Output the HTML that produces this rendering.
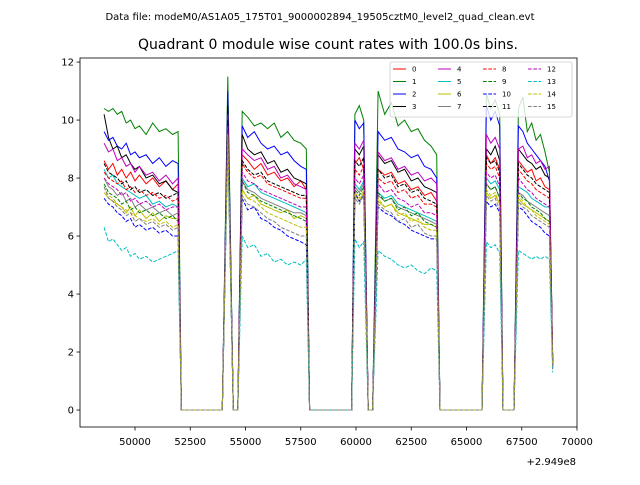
<!DOCTYPE html>
<html><head><meta charset="utf-8"><style>
body{margin:0;background:#fff;}
svg text{font-family:"DejaVu Sans","Liberation Sans",sans-serif;}
</style></head><body>
<svg id="chart" width="640" height="480" viewBox="0 0 640 480" xmlns="http://www.w3.org/2000/svg">
<rect width="640" height="480" fill="#fff"/>
<text x="320" y="20" font-size="10" text-anchor="middle">Data file: modeM0/AS1A05_175T01_9000002894_19505cztM0_level2_quad_clean.evt</text>
<text x="328" y="49" font-size="14" text-anchor="middle">Quadrant 0 module wise count rates with 100.0s bins.</text>
<g id="plot"></g>
<g id="axes"></g>
<g id="legend"></g>
</svg>
<script>
const times=[48600,48800,49000,49200,49400,49600,49800,50000,50200,50500,50800,51100,51400,51700,51950,52100,53950,54200,54450,54650,54850,55100,55400,55700,56000,56300,56600,56900,57200,57500,57750,57900,59800,59950,60150,60350,60550,60750,61000,61300,61600,61900,62200,62500,62800,63100,63400,63650,63800,65700,65900,66100,66300,66500,66650,67150,67350,67550,67750,67950,68150,68350,68550,68750,68900];
const s0=[8.6,8.3,8.5,8.1,8.3,8.0,8.2,7.9,8.1,7.8,8.0,7.7,7.9,7.6,7.8,0,0,9.5,0,0,8.8,8.6,8.3,8.5,8.1,8.2,7.9,8.0,7.7,7.9,7.6,0,0,8.5,8.7,8.3,0,0,8.3,8.1,8.2,7.8,7.9,7.6,7.7,7.4,7.5,7.2,0,0,8.8,8.5,8.7,8.3,0,0,8.6,8.4,8.2,8.3,7.9,8.0,7.7,7.6,1.7];
const s1=[10.4,10.3,10.4,10.2,10.3,9.9,10.0,9.7,9.8,9.5,9.9,9.6,9.7,9.5,9.6,0,0,11.5,0,0,10.3,10.1,9.8,9.9,9.7,9.9,9.4,9.6,9.3,9.2,9.0,0,0,10.2,10.5,10.0,0,0,11.0,10.2,10.6,9.8,10.0,9.6,9.7,9.3,9.1,8.8,0,0,10.9,10.4,10.7,10.2,0,0,10.4,10.8,9.6,9.9,9.3,9.5,8.9,8.2,1.8];
const s2=[9.6,9.3,9.4,9.1,9.0,9.2,8.8,8.9,8.7,8.8,8.5,8.7,8.4,8.6,8.5,0,0,11.0,0,0,9.8,9.4,9.6,9.2,9.0,9.1,8.8,8.9,8.6,8.4,8.3,0,0,10.0,9.7,9.9,0,0,9.6,9.3,9.4,9.0,8.9,8.7,8.8,8.4,8.3,8.0,0,0,10.5,10.0,10.3,9.8,0,0,9.8,9.6,9.2,9.0,8.8,8.6,8.4,7.9,1.7];
const s3=[10.2,9.4,9.0,9.1,8.7,8.8,8.5,8.3,8.4,8.0,8.1,7.8,7.9,7.6,7.5,0,0,10.5,0,0,9.5,9.0,8.8,8.9,8.5,8.6,8.2,8.3,8.0,7.9,7.8,0,0,9.0,8.8,9.1,0,0,8.8,8.5,8.6,8.2,8.3,7.9,8.0,7.7,7.6,7.5,0,0,9.0,8.8,9.1,8.6,0,0,9.0,8.8,8.6,8.5,8.3,8.4,8.1,8.0,1.6];
const s4=[9.2,8.9,9.0,8.6,8.7,8.4,8.5,8.2,8.4,8.1,8.2,7.9,8.1,7.8,8.0,0,0,10.2,0,0,9.0,8.8,8.6,8.7,8.3,8.4,8.0,8.1,7.8,7.7,7.6,0,0,9.2,9.0,9.3,0,0,8.9,8.6,8.7,8.3,8.4,8.1,8.2,7.9,8.0,7.8,0,0,9.5,9.2,9.4,9.0,0,0,9.0,9.1,8.7,8.8,8.5,8.6,8.3,8.4,1.7];
const s5=[8.3,8.0,8.1,7.8,7.7,7.6,7.5,7.4,7.3,7.4,7.1,7.2,7.0,7.1,7.0,0,0,9.8,0,0,8.0,7.7,7.8,7.5,7.4,7.3,7.2,7.1,7.0,6.9,6.8,0,0,7.8,7.6,7.9,0,0,7.5,7.3,7.4,7.1,7.0,6.9,6.8,6.7,6.6,6.5,0,0,8.0,7.8,7.9,7.6,0,0,7.7,7.6,7.5,7.3,7.2,7.1,7.0,7.0,1.5];
const s6=[7.5,7.3,7.2,7.1,7.0,6.8,7.0,6.7,6.9,6.6,6.8,6.5,6.7,6.6,6.6,0,0,9.6,0,0,7.6,7.3,7.4,7.1,7.0,6.9,6.8,6.9,6.6,6.7,6.6,0,0,7.4,7.2,7.5,0,0,7.2,7.0,7.1,6.8,6.7,6.6,6.5,6.4,6.4,6.3,0,0,7.5,7.3,7.4,7.1,0,0,7.3,7.1,7.0,6.9,6.8,6.7,6.6,6.5,1.5];
const s7=[8.0,7.7,7.6,7.4,7.5,7.2,7.3,7.0,7.1,6.9,7.0,6.8,6.9,6.7,6.8,0,0,9.7,0,0,7.9,7.6,7.5,7.3,7.2,7.1,7.0,6.9,6.8,6.8,6.7,0,0,7.7,7.5,7.8,0,0,7.4,7.2,7.3,7.0,6.9,6.8,6.7,6.6,6.5,6.4,0,0,7.8,7.6,7.7,7.3,0,0,7.5,7.4,7.2,7.1,7.0,6.9,6.8,6.7,1.5];
const s8=[8.2,8.0,7.9,7.8,7.9,7.6,7.7,7.5,7.6,7.4,7.5,7.3,7.4,7.2,7.3,0,0,9.9,0,0,8.5,8.2,8.0,8.1,7.8,7.7,7.6,7.5,7.4,7.3,7.3,0,0,8.3,8.1,8.4,0,0,8.0,7.8,7.9,7.5,7.6,7.3,7.4,7.1,7.1,7.0,0,0,8.5,8.3,8.4,8.0,0,0,8.3,8.1,7.9,7.8,7.6,7.5,7.4,7.3,1.6];
const s9=[7.8,7.5,7.4,7.3,7.1,7.2,6.9,7.0,6.8,6.9,6.7,6.8,6.6,6.7,6.5,0,0,9.7,0,0,7.9,7.5,7.4,7.2,7.1,7.0,6.9,6.8,6.7,6.6,6.5,0,0,7.6,7.4,7.7,0,0,7.5,7.2,7.3,6.9,7.0,6.7,6.8,6.5,6.4,6.3,0,0,7.8,7.6,7.7,7.3,0,0,7.5,7.3,7.2,7.0,6.9,6.8,6.6,6.5,1.5];
const s10=[7.3,7.1,7.0,6.8,6.7,6.5,6.6,6.3,6.4,6.2,6.3,6.1,6.2,6.0,6.0,0,0,9.5,0,0,7.3,6.9,7.0,6.6,6.5,6.3,6.2,6.0,5.9,5.8,5.7,0,0,7.5,7.2,7.4,0,0,7.0,6.8,6.7,6.5,6.4,6.2,6.1,6.0,5.9,5.9,0,0,7.2,7.0,7.1,6.8,0,0,7.0,6.9,6.7,6.5,6.4,6.3,6.1,6.0,1.4];
const s11=[8.5,8.2,8.1,8.0,7.8,7.9,7.6,7.7,7.5,7.6,7.4,7.5,7.3,7.4,7.5,0,0,10.0,0,0,8.6,8.3,8.1,8.2,7.9,7.8,7.7,7.6,7.5,7.4,7.4,0,0,8.6,8.4,8.7,0,0,8.3,8.0,8.1,7.7,7.8,7.5,7.6,7.3,7.2,7.1,0,0,8.7,8.5,8.6,8.2,0,0,8.5,8.3,8.1,8.0,7.8,7.7,7.6,7.5,1.6];
const s12=[8.0,7.8,7.7,7.6,7.4,7.5,7.2,7.3,7.1,7.2,7.0,7.1,6.9,7.0,7.0,0,0,9.8,0,0,8.2,7.9,7.8,7.6,7.5,7.4,7.3,7.2,7.1,7.0,7.0,0,0,8.0,7.8,8.1,0,0,7.8,7.5,7.6,7.3,7.2,7.0,7.1,6.8,6.8,6.7,0,0,8.2,8.0,8.1,7.7,0,0,8.0,7.8,7.6,7.5,7.3,7.2,7.1,7.0,1.5];
const s13=[6.3,5.8,5.9,5.7,5.5,5.6,5.3,5.4,5.2,5.3,5.1,5.2,5.3,5.4,5.5,0,0,9.0,0,0,6.0,5.6,5.7,5.3,5.4,5.1,5.2,5.0,5.1,5.0,5.2,0,0,5.9,5.6,5.8,0,0,5.5,5.3,5.2,5.0,4.9,5.0,4.8,4.7,4.9,4.8,0,0,5.8,5.6,5.7,5.4,0,0,5.5,5.4,5.3,5.2,5.3,5.2,5.3,5.2,1.3];
const s14=[7.7,7.4,7.3,7.1,7.0,6.9,6.8,6.7,6.6,6.5,6.6,6.4,6.5,6.3,6.4,0,0,9.5,0,0,7.6,7.3,7.2,7.0,6.8,6.7,6.6,6.5,6.4,6.3,6.3,0,0,7.5,7.3,7.6,0,0,7.3,7.0,7.1,6.7,6.8,6.5,6.6,6.3,6.2,6.2,0,0,7.6,7.4,7.5,7.1,0,0,7.4,7.2,7.0,6.9,6.7,6.6,6.5,6.4,1.5];
const s15=[7.7,7.3,7.2,7.0,6.9,6.7,6.8,6.5,6.6,6.4,6.5,6.3,6.4,6.2,6.3,0,0,9.4,0,0,7.4,7.1,7.0,6.8,6.6,6.5,6.3,6.2,6.1,6.0,6.0,0,0,7.3,7.1,7.4,0,0,7.1,6.9,6.8,6.5,6.6,6.3,6.4,6.1,6.0,6.0,0,0,7.4,7.2,7.3,6.9,0,0,7.2,7.0,6.9,6.7,6.6,6.5,6.4,6.3,1.4];
const seriesLabels=["0","1","2","3","4","5","6","7","8","9","10","11","12","13","14","15"];
const xTicks=[50000,52500,55000,57500,60000,62500,65000,67500,70000];
const yTicks=[0,2,4,6,8,10,12];

const allSeries=[s0,s1,s2,s3,s4,s5,s6,s7,s8,s9,s10,s11,s12,s13,s14,s15];
const colors=["#ff0000","#008000","#0000ff","#000000","#bf00bf","#00bfbf","#bfbf00","#808080"];
const L=80,R=577,T=58,B=427;
const xMin=47511,xMax=70000,yMin=-0.586,yMax=12.14;
function xs(v){return L+(v-xMin)/(xMax-xMin)*(R-L);}
function ys(v){return B-(v-yMin)/(yMax-yMin)*(B-T);}
const NS="http://www.w3.org/2000/svg";
function mk(tag,attrs,parent){const e=document.createElementNS(NS,tag);for(const k in attrs)e.setAttribute(k,attrs[k]);parent.appendChild(e);return e;}
const plot=document.getElementById('plot'),axes=document.getElementById('axes'),leg=document.getElementById('legend');
allSeries.forEach((s,i)=>{
  const d=s.map((v,j)=>(j?'L':'M')+xs(times[j]).toFixed(1)+','+ys(v).toFixed(1)).join('');
  const attrs={d:d,fill:'none',stroke:colors[i%8],'stroke-width':1};
  if(i>=8)attrs['stroke-dasharray']='3.7,1.6';
  const p=mk('path',attrs,plot);
  
  
});
const frame=mk('rect',{x:L,y:T,width:R-L,height:B-T,fill:'none',stroke:'#000','stroke-width':0.8},axes);


xTicks.forEach(t=>{
  const x=xs(t);
  const tk=mk('line',{x1:x,x2:x,y1:B,y2:B+3.5,stroke:'#000','stroke-width':0.8},axes);
  
  
  const tx=mk('text',{x:x,y:B+18,'font-size':10,'text-anchor':'middle'},axes);
  tx.textContent=t;
  
  
});
yTicks.forEach(t=>{
  const y=ys(t);
  const tk=mk('line',{x1:L-3.5,x2:L,y1:y,y2:y,stroke:'#000','stroke-width':0.8},axes);
  
  
  const tx=mk('text',{x:L-6,y:y+3.5,'font-size':10,'text-anchor':'end'},axes);
  tx.textContent=t;
  
  
});
const off=mk('text',{x:R-1,y:465,'font-size':10,'text-anchor':'end'},axes);
off.textContent='+2.949e8';


const lb=mk('rect',{x:390,y:62,width:182,height:55,rx:2,fill:'#fff','fill-opacity':0.8,stroke:'#ccc','stroke-width':0.8},leg);


seriesLabels.forEach((lab,i)=>{
  const col=Math.floor(i/4),row=i%4;
  const x=393+col*45,y=69+row*12.5;
  const a={x1:x,x2:x+13,y1:y,y2:y,stroke:colors[i%8],'stroke-width':1};
  if(i>=8)a['stroke-dasharray']='3.7,1.6';
  const ln=mk('line',a,leg);
  
  
  const tx=mk('text',{x:x+19,y:y+2.5,'font-size':7},leg);
  tx.textContent=lab;
  
  
});
</script>
</body></html>
